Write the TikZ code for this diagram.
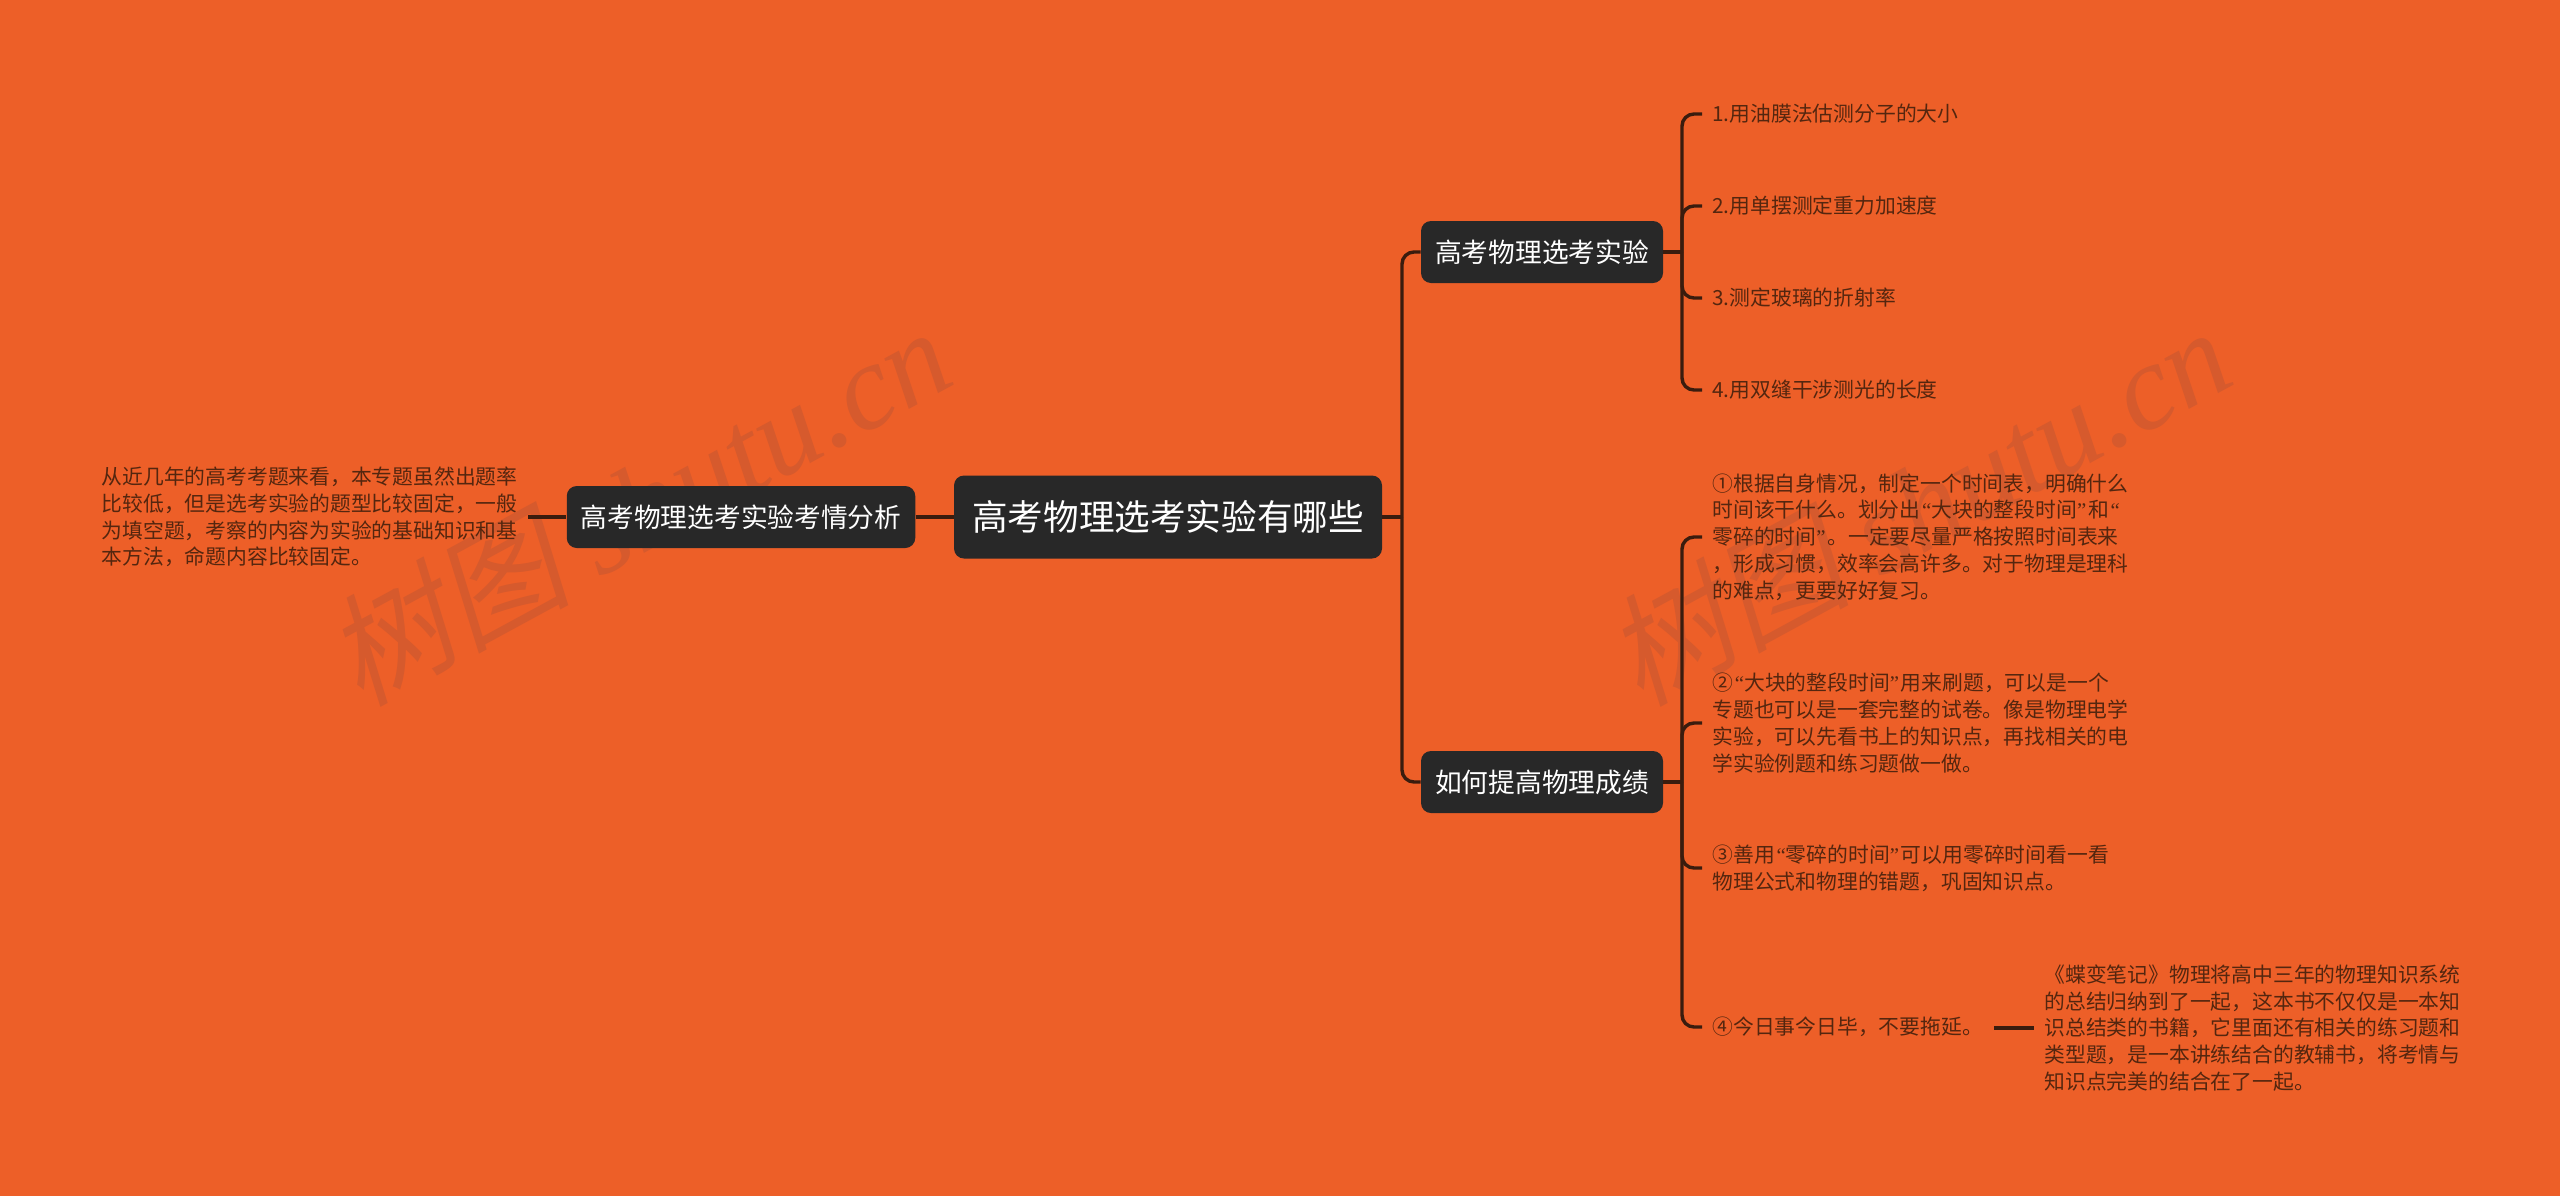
\documentclass[tikz,border=0pt]{standalone}
\usepackage{fontspec}
\setmainfont{Noto Sans CJK SC}
\newfontfamily\markcjk[FakeSlant=.2]{Noto Sans CJK SC}
\newfontfamily\marklatin{Liberation Serif}
\usetikzlibrary{calc,positioning}

\definecolor{pagebg}{HTML}{ED5F28}
\definecolor{boxfill}{HTML}{282828}
\definecolor{linkline}{HTML}{3A1C0E}
\definecolor{leafink}{HTML}{54260F}
\definecolor{markink}{HTML}{D65A2D}

% narrow quotes, as wide as the picture has them
\newcommand{\lquo}{\makebox[5.5pt][r]{\marklatin “}}
\newcommand{\rquo}{\makebox[5.5pt][l]{\marklatin ”}}

\tikzset{
    rootbox/.style={fill=boxfill,text=white,rounded corners=5pt,inner sep=0pt,
                    minimum width=214pt,minimum height=41.5pt,
                    font=\fontsize{17.8}{20}\selectfont},
    topicbox/.style={fill=boxfill,text=white,rounded corners=5pt,inner sep=0pt,
                     minimum height=31pt,font=\fontsize{13.35}{16}\selectfont},
    leaftext/.style={text=leafink,inner sep=5pt,align=left,
                     font=\fontsize{10.4}{13.4}\selectfont},
    link/.style={draw=linkline,line width=1.7pt},
    bendlink/.style={link,rounded corners=6pt},
    markhere/.style={text=markink,rotate=28.5,anchor=base,inner sep=0pt,
                     font=\fontsize{61}{65}\selectfont}
}

\begin{document}
\begin{tikzpicture}[x=.5pt,y=-.5pt]

% Page
\useasboundingbox (0,0) rectangle (2560,1195);
\fill[pagebg] (-4,-4) rectangle (2564,1199);

% Watermarks
\node[markhere] (markleft) at (660,545) {{\markcjk 树图} {\marklatin\itshape shutu.cn}};
\node[markhere] (markright) at (1940,545) {{\markcjk 树图} {\marklatin\itshape shutu.cn}};

% Middle and topics
\node[rootbox] (root) at (1168,517) {高考物理选考实验有哪些};
\node[topicbox,minimum width=174.25pt] (analysis) at (741,517) {高考物理选考实验考情分析};
\node[topicbox,minimum width=121pt] (exams) at (1542,252) {高考物理选考实验};
\node[topicbox,minimum width=121pt] (better) at (1542,782) {如何提高物理成绩};

% Left side
\node[leaftext,anchor=east] (analysistext) at (528,517) {从近几年的高考考题来看，本专题虽然出题率\\比较低，但是选考实验的题型比较固定，一般\\为填空题，考察的内容为实验的基础知识和基\\本方法，命题内容比较固定。};

% Upper right leaves
\node[leaftext,anchor=west] (examone) at (1702,114) {1.用油膜法估测分子的大小};
\node[leaftext,anchor=west] (examtwo) at (1702,206) {2.用单摆测定重力加速度};
\node[leaftext,anchor=west] (examthree) at (1702,298) {3.测定玻璃的折射率};
\node[leaftext,anchor=west] (examfour) at (1702,390) {4.用双缝干涉测光的长度};

% Lower right leaves
\node[leaftext,anchor=west] (tipone) at (1702,537) {①根据自身情况，制定一个时间表，明确什么\\时间该干什么。划分出\lquo 大块的整段时间\rquo 和\lquo\\零碎的时间\rquo 。一定要尽量严格按照时间表来\\，形成习惯，效率会高许多。对于物理是理科\\的难点，更要好好复习。};
\node[leaftext,anchor=west] (tiptwo) at (1702,723) {②\lquo 大块的整段时间\rquo 用来刷题，可以是一个\\专题也可以是一套完整的试卷。像是物理电学\\实验，可以先看书上的知识点，再找相关的电\\学实验例题和练习题做一做。};
\node[leaftext,anchor=west] (tipthree) at (1702,868) {③善用\lquo 零碎的时间\rquo 可以用零碎时间看一看\\物理公式和物理的错题，巩固知识点。};
\node[leaftext,anchor=west] (tipfour) at (1702,1027) {④今日事今日毕，不要拖延。};
\node[leaftext,anchor=west] (booktext) at (2034,1028) {《蝶变笔记》物理将高中三年的物理知识系统\\的总结归纳到了一起，这本书不仅仅是一本知\\识总结类的书籍，它里面还有相关的练习题和\\类型题，是一本讲练结合的教辅书，将考情与\\知识点完美的结合在了一起。};

% Connectors
\coordinate (rootfork) at (1402,517);
\coordinate (examfork) at (1682,252);
\coordinate (betterfork) at (1682,782);
\coordinate (bookstub) at (1994,1028);

\draw[link] (analysistext.east) -- (analysis.west);
\draw[link] (analysis.east) -- (root.west);
\draw[link] (root.east) -- (rootfork);
\draw[bendlink] (rootfork) |- (exams.west);
\draw[bendlink] (rootfork) |- (better.west);

\draw[link] (exams.east) -- (examfork);
\draw[bendlink] (examfork) |- (examone.west);
\draw[bendlink] (examfork) |- (examtwo.west);
\draw[bendlink] (examfork) |- (examthree.west);
\draw[bendlink] (examfork) |- (examfour.west);

\draw[link] (better.east) -- (betterfork);
\draw[bendlink] (betterfork) |- (tipone.west);
\draw[bendlink] (betterfork) |- (tiptwo.west);
\draw[bendlink] (betterfork) |- (tipthree.west);
\draw[bendlink] (betterfork) |- (tipfour.west);

\draw[link] (bookstub) -- (booktext.west);

\end{tikzpicture}
\end{document}
